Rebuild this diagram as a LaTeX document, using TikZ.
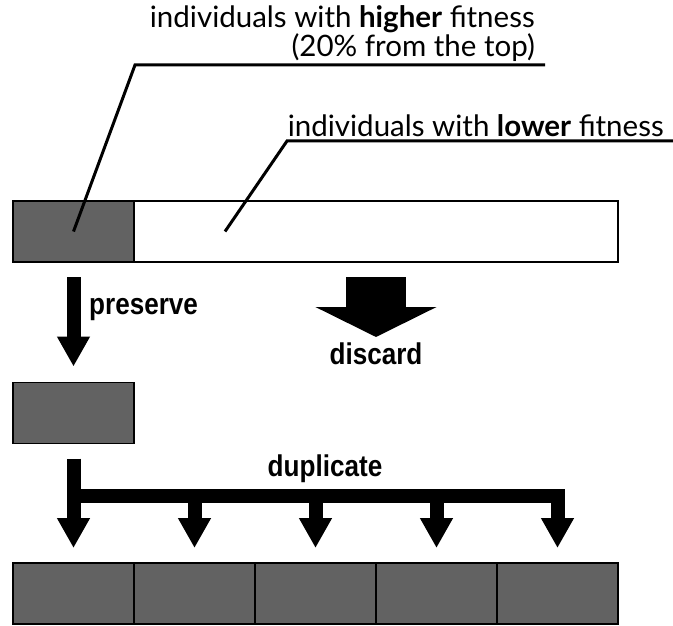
\documentclass[tikz,border=0pt]{standalone}
\usepackage{fontspec}
\setmainfont{Lato}
\newfontfamily\lblfont[FakeStretch=0.87]{Liberation Sans}
\usepackage{tikz}
\usetikzlibrary{arrows.meta,positioning,calc}
\definecolor{ink}{RGB}{0,0,0}
\definecolor{cell}{RGB}{98,98,98}
\tikzset{
  box/.style={draw=ink,line width=1.5pt,inner sep=0pt,outer sep=0pt,minimum height=61pt},
  fitbox/.style={box,fill=cell,minimum width=121pt},
  weakbox/.style={box,fill=white,minimum width=484pt},
  leader/.style={ink,line width=3pt},
  note/.style={font=\fontsize{29.5}{26}\selectfont,inner sep=0pt},
  act/.style={font=\lblfont\bfseries\fontsize{30}{32}\selectfont,inner sep=0pt},
  blk/.style={ink,line width=14pt,-{Triangle[width=31pt,length=30pt]}},
  fat/.style={ink,line width=60pt,-{Triangle[width=120pt,length=30pt]}},
}
\begin{document}
\begin{tikzpicture}[x=1pt,y=-1pt]
\useasboundingbox (0,0) rectangle (673,626);
% population, sorted by fitness
\node[fitbox] (hi) at (73.5,231.5) {};
\node[weakbox,right=0pt of hi] (lo) {};
% labels and leaders
\node[note,align=right,anchor=base east] (t1) at (535,57)
  {individuals with \textbf{higher} fitness\\(20\% from the top)\hspace{3pt}};
\node[note,anchor=base east] (t3) at (664,136) {individuals with \textbf{lower} fitness};
\coordinate (k1) at (135,65);
\coordinate (k2) at (287,141);
\coordinate (p2) at (225,231.5);
\draw[leader] (hi.center) -- (k1) -- (545,65);
\draw[leader] (p2) -- (k2) -- (673,141);
% preserve / discard
\node[fitbox] (mid) at (73.5,413) {};
\draw[blk,shorten <=15pt,shorten >=16pt] (hi.south) -- (mid.north);
\node[act,anchor=west] (pres) at (89,310) {preserve};
\coordinate (dis) at (376,337);
\draw[fat,shorten <=15pt] (lo.south) -- (dis);
\node[act,anchor=north] (disc) at (dis) [yshift=-6pt] {discard};
% duplicate
\node[fitbox] (b1) at (73.5,593.5) {};
\foreach \i [remember=\i as \j (initially 1)] in {2,...,5}
  \node[fitbox,right=0pt of b\j] (b\i) {};
\coordinate (bar) at (0,496);
\draw[blk,shorten <=15pt,shorten >=15pt] (mid.south) -- (b1.north);
\draw[ink,line width=14pt] (mid.south |- bar) -- (b5.north |- bar) -- ++(0,15);
\foreach \i in {2,...,5}
  \draw[blk,shorten >=15pt] (b\i.north |- bar) -- (b\i.north);
\node[act] (dup) at (325,469) {duplicate};
\end{tikzpicture}
\end{document}
